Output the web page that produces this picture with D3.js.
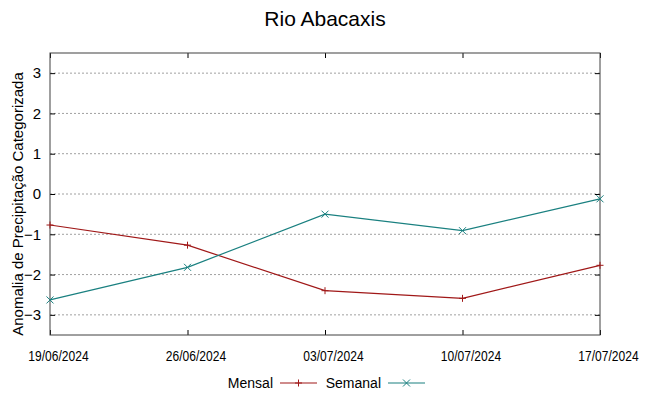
<!DOCTYPE html>
<html>
<head>
<meta charset="utf-8">
<script src="https://cdn.jsdelivr.net/npm/d3@7"></script>
<style>
  body { margin: 0; background: #fff; }
  svg { font-family: 'Liberation Sans', Arial, sans-serif; }
</style>
</head>
<body>
<svg width="649" height="396"></svg>
<script>
// values
const dates = ['19/06/2024', '26/06/2024', '03/07/2024', '10/07/2024', '17/07/2024']
const mensal = [-0.77, -1.27, -2.4, -2.59, -1.77]
const semanal = [-2.63, -1.82, -0.5, -0.91, -0.12]
const yTicks = [-3, -2, -1, 0, 1, 2, 3]

const svg = d3.select('svg')
const margin = { top: 53, right: 49, bottom: 61, left: 50 }
const width = 649 - margin.left - margin.right
const height = 396 - margin.top - margin.bottom

const parse = d3.timeParse('%d/%m/%Y')
const fmt = d3.timeFormat('%d/%m/%Y')
const xs = dates.map(parse)

const x = d3.scaleTime().domain(d3.extent(xs)).range([0, width])
const y = d3.scaleLinear().domain([-3.5, 3.5]).range([height, 0])

const g = svg.append('g').attr('transform', 'translate(' + margin.left + ',' + margin.top + ')')

// horizontal grid
g.selectAll('.grid').data(yTicks).enter().append('line')
  .attr('x1', 0).attr('x2', width)
  .attr('y1', d => y(d)).attr('y2', d => y(d))
  .attr('stroke', '#a0a0a0').attr('stroke-width', 1)
  .attr('stroke-dasharray', '2,2')

// axes, ticks pointing inward, mirrored
const axLeft = g.append('g').call(d3.axisLeft(y).tickValues(yTicks).tickSize(-5).tickPadding(9).tickFormat(d3.format('d')))
const axRight = g.append('g').attr('transform', 'translate(' + width + ',0)')
  .call(d3.axisRight(y).tickValues(yTicks).tickSize(-5).tickFormat(''))
const axBottom = g.append('g').attr('transform', 'translate(0,' + height + ')')
  .call(d3.axisBottom(x).tickValues(xs).tickSize(-5).tickPadding(16).tickFormat(fmt))
const axTop = g.append('g')
  .call(d3.axisTop(x).tickValues(xs).tickSize(-5).tickFormat(''))

;[axLeft, axRight, axBottom, axTop].forEach(a => {
  a.select('.domain').remove()
  a.selectAll('line').attr('stroke', '#000')
})
axLeft.selectAll('text').attr('font-size', 15).attr('fill', '#000')
  .attr('font-family', "'Liberation Sans', Arial, sans-serif")
// the date labels are narrow in the original, squeeze them a bit
axBottom.selectAll('text').attr('font-size', 14).attr('fill', '#000')
  .attr('font-family', "'Liberation Sans', Arial, sans-serif")
  .attr('dx', 8)
  .each(function () {
    const w = this.getComputedTextLength()
    d3.select(this).attr('textLength', w * 0.86).attr('lengthAdjust', 'spacingAndGlyphs')
  })

// border
g.append('rect').attr('width', width).attr('height', height)
  .attr('fill', 'none').attr('stroke', '#404040').attr('stroke-width', 1)

const line = d3.line().x((d, i) => x(xs[i])).y(d => y(d))

const series = [
  { name: 'Mensal', values: mensal, color: '#a01818', mark: 'plus' },
  { name: 'Semanal', values: semanal, color: '#1a8080', mark: 'cross' }
]

function marker (sel, cx, cy, type, color) {
  const s = 3.5
  if (type === 'plus') {
    sel.append('path').attr('d', `M${cx - s},${cy}H${cx + s}M${cx},${cy - s}V${cy + s}`)
      .attr('stroke', color).attr('stroke-width', 1).attr('fill', 'none')
  } else {
    sel.append('path').attr('d', `M${cx - s},${cy - s}L${cx + s},${cy + s}M${cx - s},${cy + s}L${cx + s},${cy - s}`)
      .attr('stroke', color).attr('stroke-width', 1).attr('fill', 'none')
  }
}

series.forEach(s => {
  g.append('path').datum(s.values)
    .attr('d', line).attr('fill', 'none')
    .attr('stroke', s.color).attr('stroke-width', 1.2)
  const mg = g.append('g')
  s.values.forEach((v, i) => marker(mg, x(xs[i]), y(v), s.mark, s.color))
})

// title
svg.append('text').attr('x', 325).attr('y', 26).attr('text-anchor', 'middle')
  .attr('font-size', 21).text('Rio Abacaxis')

// y label
svg.append('text').attr('transform', 'translate(23,204) rotate(-90)')
  .attr('text-anchor', 'middle').attr('font-size', 15)
  .text('Anomalia de Precipitação Categorizada')

// legend
const legendX = [273, 381]
const lg = svg.append('g')
series.forEach((s, i) => {
  const lx = legendX[i]
  lg.append('text').attr('x', lx).attr('y', 388).attr('text-anchor', 'end')
    .attr('font-size', 14).text(s.name)
  lg.append('line').attr('x1', lx + 7).attr('x2', lx + 44).attr('y1', 383).attr('y2', 383)
    .attr('stroke', s.color).attr('stroke-width', 1.2)
  marker(lg, lx + 25.5, 383, s.mark, s.color)
})
</script>
</body>
</html>
